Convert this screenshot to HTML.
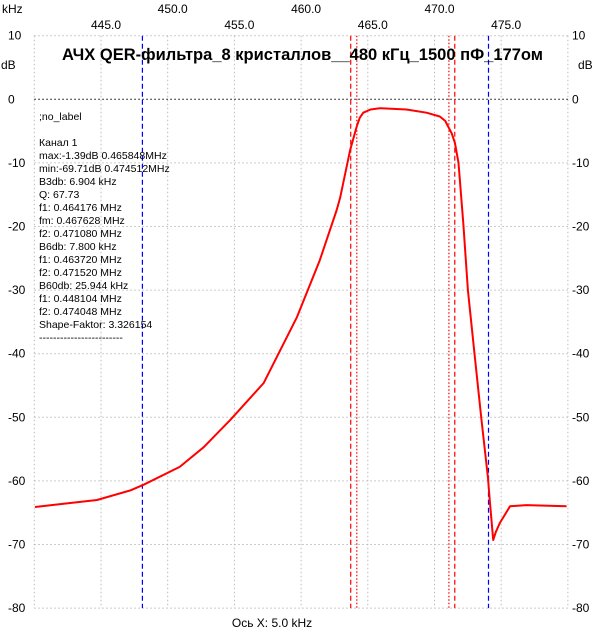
<!DOCTYPE html>
<html><head><meta charset="utf-8"><style>
body{margin:0;background:#fff;width:602px;height:643px;overflow:hidden}
svg{display:block;font-family:"Liberation Sans","DejaVu Sans",sans-serif}
</style></head><body>
<svg id="chart" width="602" height="643" viewBox="0 0 602 643" xmlns="http://www.w3.org/2000/svg">
<g id="grid"></g>
<g id="markers"></g>
<g id="axes"></g>
<text x="62" y="60" font-size="17" font-weight="bold" textLength="481" lengthAdjust="spacingAndGlyphs" fill="#000">АЧХ QER-фильтра_8 кристаллов__480 кГц_1500 пФ_177ом</text>
<g id="info" font-size="10.5" fill="#000"></g>
<path id="curve" fill="none" stroke="#f00" stroke-width="2" stroke-linejoin="round"/>
<text x="272" y="627" font-size="12" text-anchor="middle" fill="#000">Ось X: 5.0 kHz</text>
</svg>
<script>
const freqKHz=[440.05,442.2,444.7,447.2,448.2,450.9,452.7,454.7,457.2,459.7,461.4,462.67,462.92,463.67,464.17,464.4,464.66,465.2,465.9,467.9,469.4,470.4,470.8,471.03,471.3,471.54,471.8,472.16,472.5,473.0,473.5,474.0,474.16,474.4,474.6,474.9,475.66,476.9,479.9];
const levelDb=[-64.1,-63.6,-63,-61.5,-60.6,-57.8,-54.7,-50.4,-44.6,-34.2,-25.3,-17.4,-15.5,-8,-4.3,-2.9,-2.1,-1.6,-1.4,-1.6,-2.1,-2.7,-3.4,-4.3,-5.4,-6.9,-10,-19.5,-30,-40,-50,-59.4,-63.5,-69.3,-68,-66.6,-64,-63.8,-64];
const yTicks=[10,0,-10,-20,-30,-40,-50,-60,-70,-80];
const xTicks=[445,450,455,460,465,470,475];
const markerFreqs=[448.104,463.72,464.176,471.08,471.52,474.048];
const markerKinds=["blue","reddash","reddot","reddot","reddash","blue"];
const infoLines=["Канал 1","max:-1.39dB 0.465848MHz","min:-69.71dB 0.474512MHz","B3db: 6.904 kHz","Q: 67.73","f1: 0.464176 MHz","fm: 0.467628 MHz","f2: 0.471080 MHz","B6db: 7.800 kHz","f1: 0.463720 MHz","f2: 0.471520 MHz","B60db: 25.944 kHz","f1: 0.448104 MHz","f2: 0.474048 MHz","Shape-Faktor: 3.326154","------------------------"];
const NS="http://www.w3.org/2000/svg";
const X=f=>34.3+(f-440)*13.34;
const Y=d=>99.3-d*6.36;
function mk(tag,attrs,parent,txt){const e=document.createElementNS(NS,tag);for(const k in attrs)e.setAttribute(k,attrs[k]);if(txt!==undefined)e.textContent=txt;parent.appendChild(e);return e;}
const grid=document.getElementById('grid'),axes=document.getElementById('axes'),mg=document.getElementById('markers'),info=document.getElementById('info');
for(let f=440;f<=480;f+=5){const l=mk('line',{x1:X(f),x2:X(f),y1:Y(10),y2:Y(-80),stroke:'#bbb','stroke-dasharray':'1.5,2.5'},grid);

}
yTicks.forEach(d=>{const l=mk('line',{x1:X(440),x2:X(480),y1:Y(d),y2:Y(d),stroke:d===0?'#000':'#bbb','stroke-dasharray':'1.5,2.5'},grid);


const t1=mk('text',{x:8,y:Y(d)+4,'font-size':12},axes,String(d));


const t2=mk('text',{x:572,y:Y(d)+4,'font-size':12},axes,String(d));

});
xTicks.forEach((f,i)=>{const t=mk('text',{x:X(f)+5,y:i%2===0?29:13,'font-size':12,'text-anchor':'middle'},axes,f.toFixed(1));

});
[[2,13,'kHz'],[1,69,'dB'],[578,69,'dB']].forEach(a=>{const t=mk('text',{x:a[0],y:a[1],'font-size':12},axes,a[2]);

});
markerFreqs.forEach((f,i)=>{const k=markerKinds[i];const l=mk('line',{x1:X(f),x2:X(f),y1:Y(10),y2:Y(-80),stroke:k==='blue'?'#00f':'#f00','stroke-width':1.2,'stroke-dasharray':k==='reddot'?'1.5,2':'5,3'},mg);

});
const nl=mk('text',{x:39,y:120},info,';no_label');


infoLines.forEach((s,i)=>{const t=mk('text',{x:39,y:146+i*13},info,s);

});
document.getElementById('curve').setAttribute('d',freqKHz.map((f,i)=>(i?'L':'M')+X(f).toFixed(1)+','+Y(levelDb[i]).toFixed(1)).join(''));
</script>
</body></html>
